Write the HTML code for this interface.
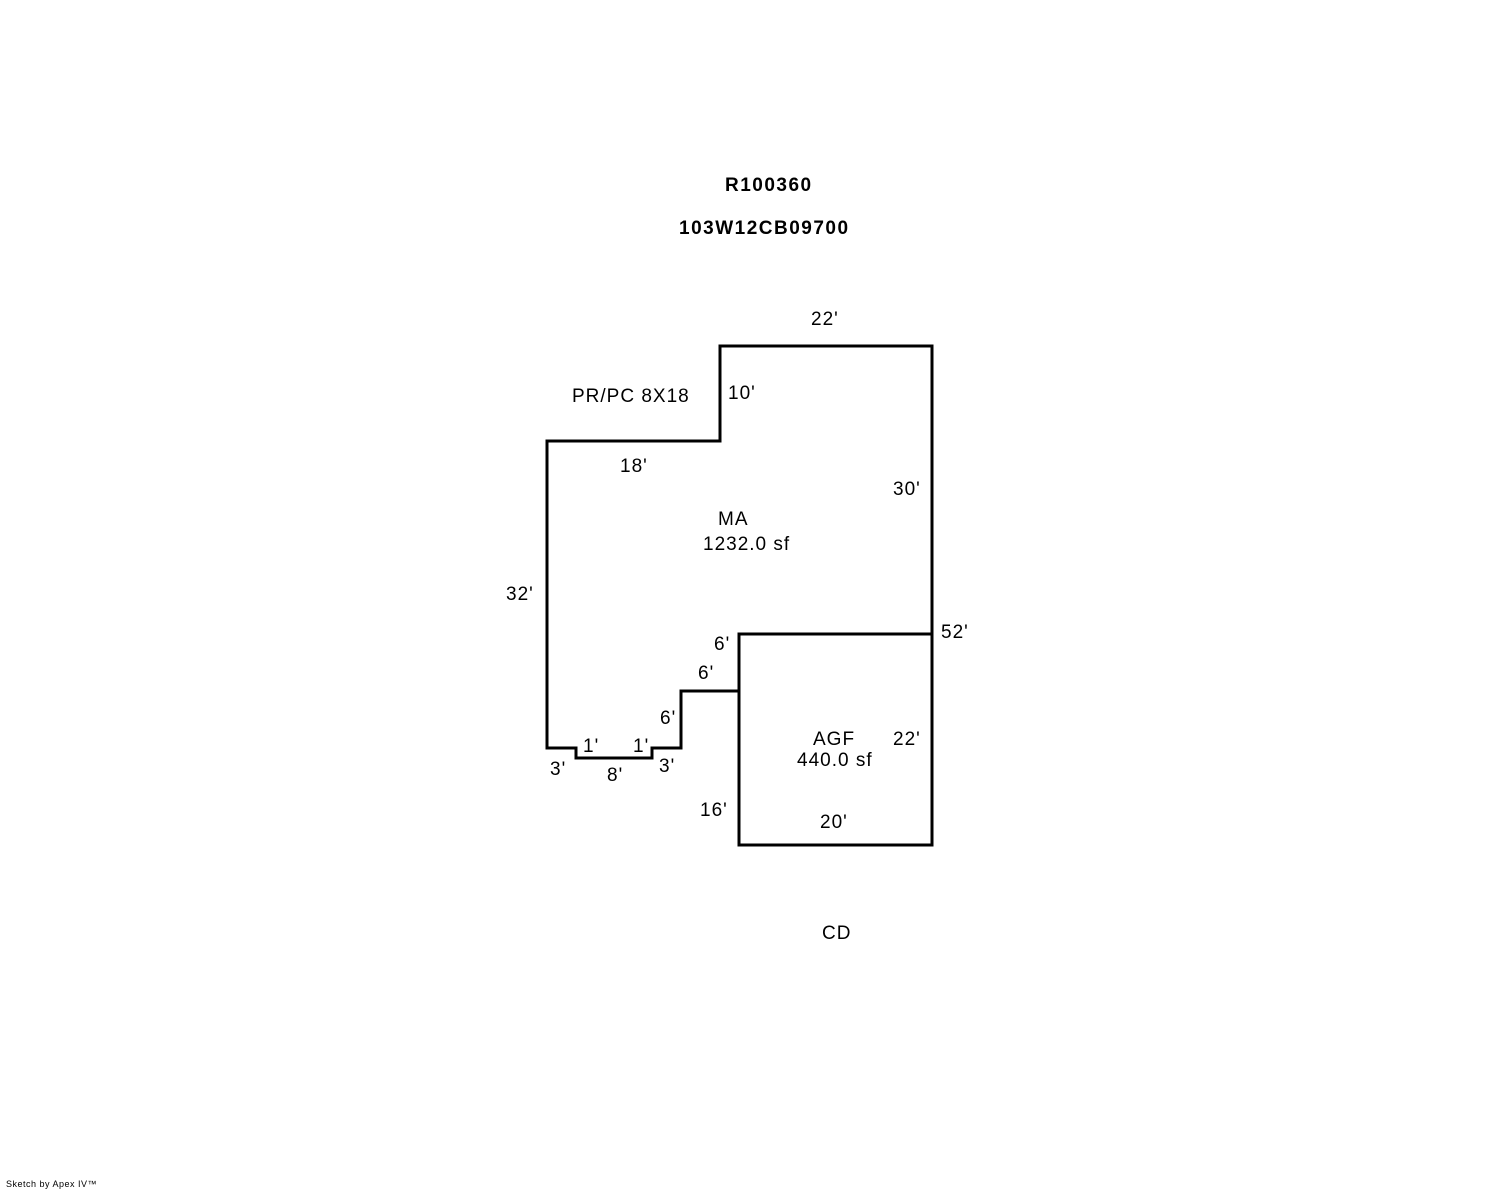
<!DOCTYPE html>
<html><head><style>
html,body{margin:0;padding:0;background:#fff}
svg{display:block}
text{font-family:"Liberation Sans",Arial,sans-serif;font-size:19px;letter-spacing:1px;fill:#000}
</style></head><body>
<svg width="1488" height="1190" viewBox="0 0 1488 1190" xmlns="http://www.w3.org/2000/svg">
<g fill="none" stroke="#000" stroke-width="3" stroke-linejoin="miter" stroke-linecap="square">
<polyline points="720,441 720,346 932,346 932,845 739,845 739,691 681,691 681,748 652,748 652,758 576,758 576,748 547,748 547,441 720,441"/>
<line x1="739" y1="634" x2="932" y2="634"/>
<line x1="739" y1="634" x2="739" y2="691"/>
</g>
<text x="725" y="191" font-weight="bold" style="letter-spacing:1.5px">R100360</text>
<text x="679" y="234" font-weight="bold" style="letter-spacing:1.5px">103W12CB09700</text>
<text x="811" y="325">22'</text>
<text x="572" y="402">PR/PC 8X18</text>
<text x="728" y="399">10'</text>
<text x="620" y="472">18'</text>
<text x="893" y="495">30'</text>
<text x="718" y="525">MA</text>
<text x="703" y="550">1232.0 sf</text>
<text x="506" y="600">32'</text>
<text x="714" y="650">6'</text>
<text x="941" y="638">52'</text>
<text x="698" y="679">6'</text>
<text x="660" y="724">6'</text>
<text x="583" y="752">1'</text>
<text x="633" y="752">1'</text>
<text x="550" y="775">3'</text>
<text x="607" y="781">8'</text>
<text x="659" y="772">3'</text>
<text x="813" y="745">AGF</text>
<text x="797" y="766">440.0 sf</text>
<text x="893" y="745">22'</text>
<text x="700" y="816">16'</text>
<text x="820" y="828">20'</text>
<text x="822" y="939">CD</text>
<text x="6" y="1187" style="font-size:9px;letter-spacing:0.5px">Sketch by Apex IV™</text>
</svg>
</body></html>
